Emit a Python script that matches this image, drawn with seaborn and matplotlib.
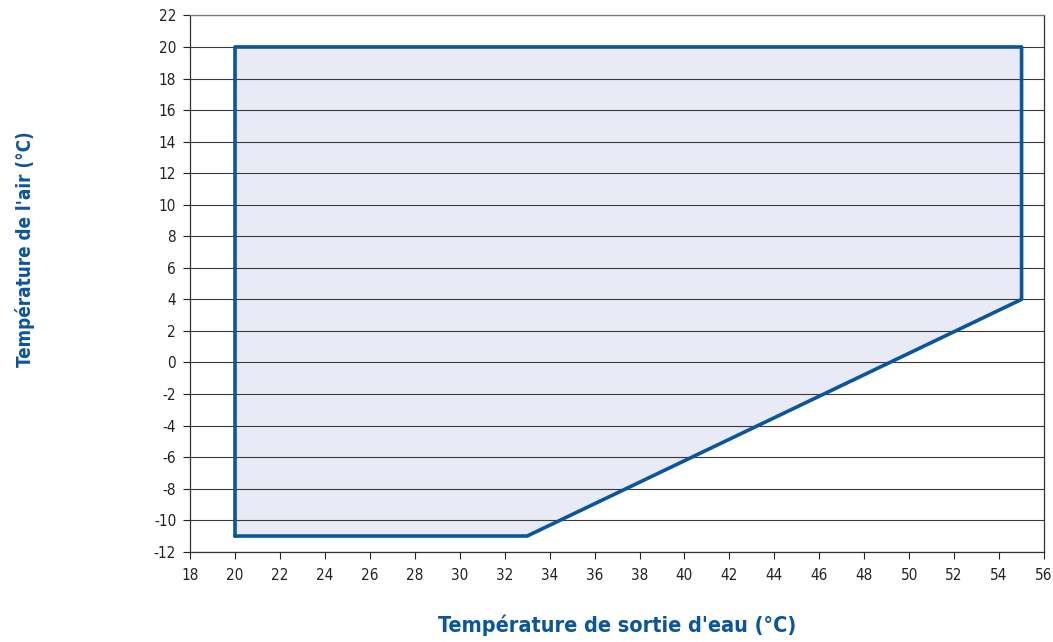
import matplotlib
matplotlib.use("Agg")
import matplotlib.pyplot as plt
import seaborn as sns
import pandas as pd

# Operating envelope (corners of the polygon)
water_temp = [20, 20, 55, 55, 33, 20]
air_temp = [-11, 20, 20, 4, -11, -11]

x_ticks = list(range(18, 57, 2))
y_ticks = list(range(-12, 23, 2))

sns.set_style("white")
plt.rcParams['font.family'] = ['DejaVu Sans']
plt.rcParams['font.stretch'] = 'condensed'
plt.rcParams['axes.unicode_minus'] = False

df = pd.DataFrame({"water": water_temp, "air": air_temp})

fig = plt.figure(figsize=(10.53, 6.42), dpi=100)
ax = fig.add_axes([0.1805, 0.1405, 0.8110, 0.8355])

ax.fill(df["water"], df["air"], color="#e8ebf5", zorder=1)
for y in y_ticks:
    ax.axhline(y, color="#3a3a3a", lw=0.8, zorder=2)
sns.lineplot(data=df, x="water", y="air", sort=False, estimator=None,
             color="#0a55a0", lw=2.6, ax=ax, zorder=3)

ax.set_xlim(18, 56)
ax.set_ylim(-12, 22)
ax.set_xticks(x_ticks)
ax.set_yticks(y_ticks)
ax.tick_params(axis="both", direction="out", length=5, width=0.8,
               colors="#222222", labelsize=11, bottom=True, left=True)
ax.tick_params(axis="x", pad=7)
ax.tick_params(axis="y", pad=5)
for side in ["left", "bottom", "right"]:
    ax.spines[side].set_color("#333333")
    ax.spines[side].set_linewidth(0.9)
ax.spines["top"].set_color("#777777")
ax.spines["top"].set_linewidth(0.9)

ax.set_xlabel("Température de sortie d'eau (°C)", fontsize=15.5, fontweight="bold",
              color="#0a55a0", labelpad=22)
ax.set_ylabel("Température de l'air (°C)", fontsize=13.5, fontweight="bold",
              color="#0a55a0")
ax.yaxis.set_label_coords(-0.181, 0.565)

fig.savefig("out.png", dpi=100)
